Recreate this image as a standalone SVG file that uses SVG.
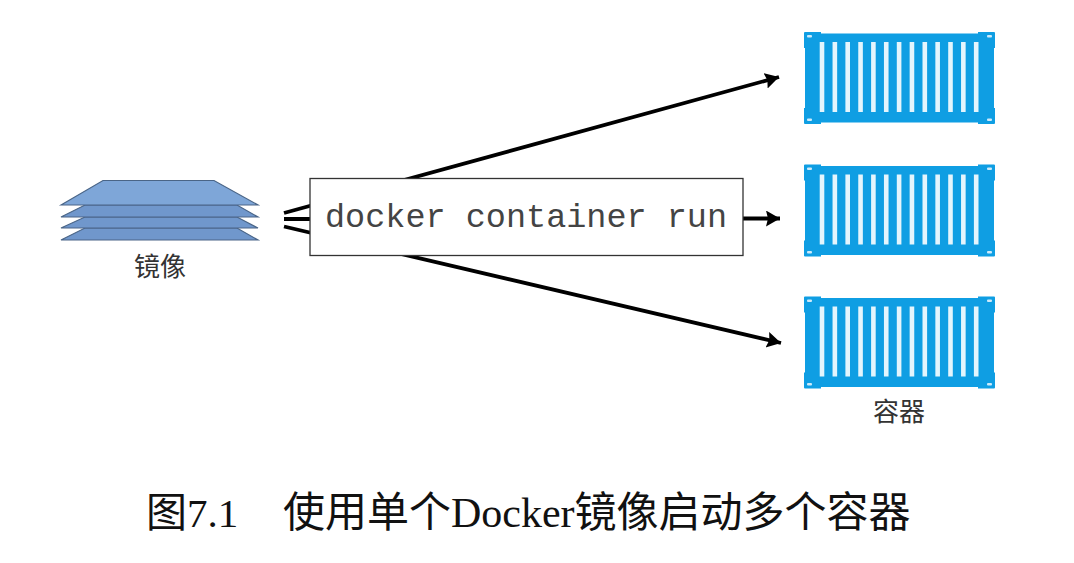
<svg xmlns="http://www.w3.org/2000/svg" xmlns:xlink="http://www.w3.org/1999/xlink" width="1074" height="563" viewBox="0 0 1074 563">
<style>
.layer{fill:#7097cc;stroke:#4a6587;stroke-width:1.2}
.top{fill:#7ea6d8}
.conn{stroke:#000;stroke-width:3.8;fill:none}
.box{fill:#fff;stroke:#333;stroke-width:1.3}
.cmd{font-family:"Liberation Mono",monospace;font-size:33.5px;fill:#444}
.lbl{font-family:"Noto Sans CJK SC","Liberation Sans",sans-serif;font-size:26px;fill:#333;text-anchor:middle}
.title{font-family:"Liberation Serif","Noto Sans CJK SC",serif;fill:#111}
.body{fill:#0f9ee3}
.slat{fill:#e4f5fd}
.hole{fill:#cdeafa}
</style>
<defs>
<marker id="ah" markerUnits="userSpaceOnUse" markerWidth="16" markerHeight="18" refX="14" refY="8" orient="auto">
<path d="M0 0L14 8L0 16L2 8Z" fill="#000"/>
</marker>
<g id="ctr">
<path class="body" d="M0 1Q0 0 1 0H17V1.5H174V0H190Q191 0 191 1V16H190V76H191V91Q191 92 190 92H174V90.5H17V92H1Q0 92 0 91V76H1V16H0Z"/>
<g class="slat">
<rect x="15.700" y="10" width="4.600" height="70"/><rect x="28.550" y="10" width="4.600" height="70"/><rect x="41.400" y="10" width="4.600" height="70"/><rect x="54.250" y="10" width="4.600" height="70"/><rect x="67.100" y="10" width="4.600" height="70"/><rect x="79.950" y="10" width="4.600" height="70"/><rect x="92.800" y="10" width="4.600" height="70"/><rect x="105.650" y="10" width="4.600" height="70"/><rect x="118.500" y="10" width="4.600" height="70"/><rect x="131.350" y="10" width="4.600" height="70"/><rect x="144.200" y="10" width="4.600" height="70"/><rect x="157.050" y="10" width="4.600" height="70"/><rect x="169.900" y="10" width="4.600" height="70"/>
</g>
<g class="hole">
<rect x="3" y="3" width="5" height="2.500" rx="1"/><rect x="183" y="3" width="5" height="2.500" rx="1"/><rect x="3" y="86.500" width="5" height="2.500" rx="1"/><rect x="183" y="86.500" width="5" height="2.500" rx="1"/>
</g>
</g>
</defs>
<g id="connectors">
<line class="conn" x1="284" y1="213" x2="779" y2="77" marker-end="url(#ah)"/>
<line class="conn" x1="284" y1="219" x2="320" y2="219"/>
<line class="conn" x1="284" y1="226.500" x2="781" y2="343" marker-end="url(#ah)"/>
<line class="conn" x1="743" y1="218.500" x2="780" y2="218.500" marker-end="url(#ah)"/>
</g>
<g id="image-stack">
<path class="layer" d="M61 240L85 228H237L258 240Z"/>
<path class="layer" d="M61 228L85 217H237L258 228Z"/>
<path class="layer" d="M61 217L85 205H237L258 217Z"/>
<path class="layer top" d="M61 205L103 180.500H214L258 205Z"/>
<text class="lbl" x="160" y="276">镜像</text>
</g>
<g id="command">
<rect class="box" x="310" y="178.500" width="433" height="77"/>
<text class="cmd" x="325" y="227">docker container run</text>
</g>
<g id="container-1"><use xlink:href="#ctr" href="#ctr" x="804" y="32"/></g>
<g id="container-2"><use xlink:href="#ctr" href="#ctr" x="804" y="164.500"/></g>
<g id="container-3"><use xlink:href="#ctr" href="#ctr" x="804" y="296.500"/>
<text class="lbl" x="899" y="421">容器</text></g>
<text class="title" x="146" y="527" font-size="41">图7.1</text>
<text class="title" x="283" y="527" font-size="42">使用单个Docker镜像启动多个容器</text>
</svg>
